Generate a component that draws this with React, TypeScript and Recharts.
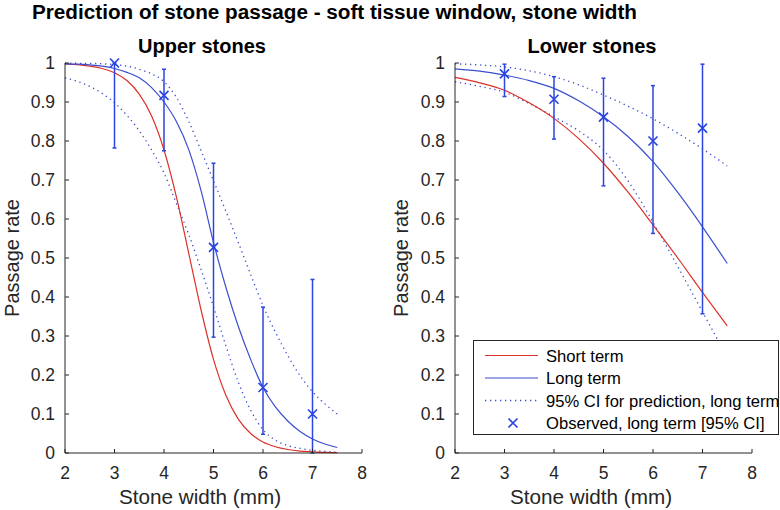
import { ComposedChart, Line, Scatter, ErrorBar, XAxis, YAxis } from "recharts"

const FONT = "'Liberation Sans', Arial, Helvetica, sans-serif"
const AXIS = "#262626"
const RED = "#dc3128"
const BLUE = "#3a4ed0"
const MARK = "#2b46e0"

// Upper stones, fitted curves read on a 0.25 mm grid
const upperX = [2, 2.25, 2.5, 2.75, 3, 3.25, 3.5, 3.75, 4, 4.25, 4.5, 4.75, 5, 5.25, 5.5, 5.75, 6, 6.25, 6.5, 6.75, 7, 7.25, 7.5]
const upperShort = [0.998, 0.996, 0.992, 0.986, 0.975, 0.955, 0.92, 0.864, 0.777, 0.657, 0.512, 0.366, 0.24, 0.148, 0.087, 0.05, 0.028, 0.016, 0.009, 0.005, 0.003, 0.0015, 0.001]
const upperLong = [0.998, 0.997, 0.995, 0.992, 0.986, 0.976, 0.962, 0.937, 0.9, 0.85, 0.778, 0.672, 0.54, 0.425, 0.325, 0.24, 0.168, 0.118, 0.082, 0.055, 0.036, 0.023, 0.014]
const upperCiHi = [0.9995, 0.9993, 0.999, 0.998, 0.996, 0.992, 0.984, 0.972, 0.952, 0.912, 0.85, 0.775, 0.698, 0.62, 0.54, 0.458, 0.378, 0.31, 0.25, 0.198, 0.157, 0.126, 0.1]
const upperCiLo = [0.962, 0.953, 0.94, 0.922, 0.898, 0.866, 0.826, 0.777, 0.718, 0.64, 0.56, 0.47, 0.375, 0.275, 0.182, 0.11, 0.06, 0.033, 0.019, 0.012, 0.007, 0.004, 0.002]

// Lower stones, fitted curves read on a 0.5 mm grid
const lowerX = [2, 2.5, 3, 3.5, 4, 4.5, 5, 5.5, 6, 6.5, 7, 7.5]
const lowerShort = [0.963, 0.949, 0.93, 0.898, 0.858, 0.806, 0.743, 0.668, 0.585, 0.5, 0.412, 0.326]
const lowerLong = [0.985, 0.979, 0.969, 0.955, 0.935, 0.903, 0.862, 0.811, 0.747, 0.668, 0.58, 0.486]
const lowerCiHi = [0.998, 0.995, 0.99, 0.98, 0.965, 0.944, 0.918, 0.889, 0.857, 0.82, 0.78, 0.736]
const lowerCiLo = [0.952, 0.94, 0.925, 0.896, 0.862, 0.826, 0.776, 0.697, 0.592, 0.478, 0.362, 0.245]

// observed long-term passage with 95% CI
const obsX = [3, 4, 5, 6, 7]
const upperObs = [1.0, 0.917, 0.527, 0.168, 0.1]
const upperObsLo = [0.782, 0.775, 0.297, 0.048, 0.0]
const upperObsHi = [1.0, 0.984, 0.743, 0.374, 0.445]
const lowerObs = [0.972, 0.907, 0.861, 0.8, 0.833]
const lowerObsLo = [0.914, 0.805, 0.685, 0.563, 0.357]
const lowerObsHi = [0.997, 0.965, 0.961, 0.942, 0.997]

const xTicks = [2, 3, 4, 5, 6, 7, 8]
const yTicks = [0, 0.1, 0.2, 0.3, 0.4, 0.5, 0.6, 0.7, 0.8, 0.9, 1]

function XTick(props: any) {
  const { x, y, payload } = props
  return (
    <g>
      <line x1={x} x2={x} y1={y} y2={y - 4} stroke={AXIS} strokeWidth={1} />
      <text x={x} y={y + 26} textAnchor="middle" fontSize={17.5} fill={AXIS} fontFamily={FONT}>
        {payload.value}
      </text>
    </g>
  )
}

function YTick(props: any) {
  const { x, y, payload } = props
  return (
    <g>
      <line x1={x} x2={x + 4} y1={y} y2={y} stroke={AXIS} strokeWidth={1} />
      <text x={x - 10} y={y + 6} textAnchor="end" fontSize={17.5} fill={AXIS} fontFamily={FONT}>
        {String(Number(payload.value.toFixed(1)))}
      </text>
    </g>
  )
}

function Cross(props: any) {
  const { cx, cy } = props
  const r = 4.5
  return (
    <path
      d={`M${cx - r},${cy - r}L${cx + r},${cy + r}M${cx - r},${cy + r}L${cx + r},${cy - r}`}
      stroke={MARK}
      strokeWidth={1.7}
      fill="none"
    />
  )
}

type PanelProps = {
  xs: number[]
  short: number[]
  long: number[]
  hi: number[]
  lo: number[]
  obs: number[]
  obsLo: number[]
  obsHi: number[]
}

function Panel({ xs, short, long, hi, lo, obs, obsLo, obsHi }: PanelProps) {
  const rows = xs.map((x, i) => ({ x, short: short[i], long: long[i], hi: hi[i], lo: lo[i] }))
  const points = obsX.map((x, i) => ({ x, obs: obs[i], err: [obs[i] - obsLo[i], obsHi[i] - obs[i]] }))
  return (
    <ComposedChart width={390} height={510} data={rows} margin={{ top: 63, right: 28, bottom: 0, left: 20 }}>
      <XAxis
        dataKey="x"
        type="number"
        domain={[2, 8]}
        ticks={xTicks}
        height={57}
        axisLine={{ stroke: AXIS, strokeWidth: 1 }}
        tickLine={false}
        tickSize={0}
        tickMargin={0}
        tick={<XTick />}
        interval={0}
      />
      <YAxis
        type="number"
        domain={[0, 1]}
        ticks={yTicks}
        width={45}
        axisLine={{ stroke: AXIS, strokeWidth: 1 }}
        tickLine={false}
        tickSize={0}
        tickMargin={0}
        tick={<YTick />}
        interval={0}
      />
      <Line dataKey="hi" type="monotone" stroke={BLUE} strokeWidth={1.3} strokeDasharray="1.3 3.7" dot={false} activeDot={false} isAnimationActive={false} />
      <Line dataKey="lo" type="monotone" stroke={BLUE} strokeWidth={1.3} strokeDasharray="1.3 3.7" dot={false} activeDot={false} isAnimationActive={false} />
      <Line dataKey="short" type="monotone" stroke={RED} strokeWidth={1.2} dot={false} activeDot={false} isAnimationActive={false} />
      <Line dataKey="long" type="monotone" stroke={BLUE} strokeWidth={1.2} dot={false} activeDot={false} isAnimationActive={false} />
      <Scatter data={points} dataKey="obs" shape={<Cross />} isAnimationActive={false}>
        <ErrorBar dataKey="err" direction="y" width={2} stroke={MARK} strokeWidth={1.5} isAnimationActive={false} />
      </Scatter>
    </ComposedChart>
  )
}

function LegendBox() {
  const rows = [
    { label: "Short term", kind: "red" },
    { label: "Long term", kind: "blue" },
    { label: "95% CI for prediction, long term", kind: "dot" },
    { label: "Observed, long term [95% CI]", kind: "mark" },
  ]
  return (
    <svg
      width={306}
      height={95}
      style={{ position: "absolute", left: 473, top: 340, background: "#fff" }}
    >
      <rect x={0.5} y={0.5} width={305} height={94} fill="#fff" stroke={AXIS} strokeWidth={1} />
      {rows.map((r, i) => {
        const cy = 15.5 + i * 22.5
        return (
          <g key={r.label}>
            {r.kind === "red" && <line x1={12} x2={65} y1={cy} y2={cy} stroke={RED} strokeWidth={1.2} />}
            {r.kind === "blue" && <line x1={12} x2={65} y1={cy} y2={cy} stroke={BLUE} strokeWidth={1.2} />}
            {r.kind === "dot" && (
              <line x1={12} x2={65} y1={cy} y2={cy} stroke={BLUE} strokeWidth={1.3} strokeDasharray="1.3 3.7" />
            )}
            {r.kind === "mark" && <Cross cx={40} cy={cy} />}
            <text x={73} y={cy + 6} fontSize={16.6} fill="#000" fontFamily={FONT}>
              {r.label}
            </text>
          </g>
        )
      })}
    </svg>
  )
}

export default function App() {
  return (
    <div style={{ position: "absolute", left: 0, top: 0, width: 780, height: 510, background: "#fff", overflow: "hidden" }}>
      <div style={{ position: "absolute", left: 0, top: 0 }}>
        <Panel xs={upperX} short={upperShort} long={upperLong} hi={upperCiHi} lo={upperCiLo} obs={upperObs} obsLo={upperObsLo} obsHi={upperObsHi} />
      </div>
      <div style={{ position: "absolute", left: 390, top: 0 }}>
        <Panel xs={lowerX} short={lowerShort} long={lowerLong} hi={lowerCiHi} lo={lowerCiLo} obs={lowerObs} obsLo={lowerObsLo} obsHi={lowerObsHi} />
      </div>
      <svg width={780} height={510} style={{ position: "absolute", left: 0, top: 0, pointerEvents: "none" }}>
        <text x={32} y={19} fontSize={20.7} fontWeight="bold" fill="#000" fontFamily={FONT}>
          Prediction of stone passage - soft tissue window, stone width
        </text>
        <text x={202} y={53} textAnchor="middle" fontSize={20} fontWeight="bold" fill="#000" fontFamily={FONT}>
          Upper stones
        </text>
        <text x={592} y={53} textAnchor="middle" fontSize={20} fontWeight="bold" fill="#000" fontFamily={FONT}>
          Lower stones
        </text>
        <text x={200} y={504} textAnchor="middle" fontSize={20.7} fill={AXIS} fontFamily={FONT}>
          Stone width (mm)
        </text>
        <text x={591} y={504} textAnchor="middle" fontSize={20.7} fill={AXIS} fontFamily={FONT}>
          Stone width (mm)
        </text>
        <text x={19} y={258} transform="rotate(-90 19 258)" textAnchor="middle" fontSize={20} fill={AXIS} fontFamily={FONT}>
          Passage rate
        </text>
        <text x={408} y={258} transform="rotate(-90 408 258)" textAnchor="middle" fontSize={20} fill={AXIS} fontFamily={FONT}>
          Passage rate
        </text>
      </svg>
      <LegendBox />
    </div>
  )
}
